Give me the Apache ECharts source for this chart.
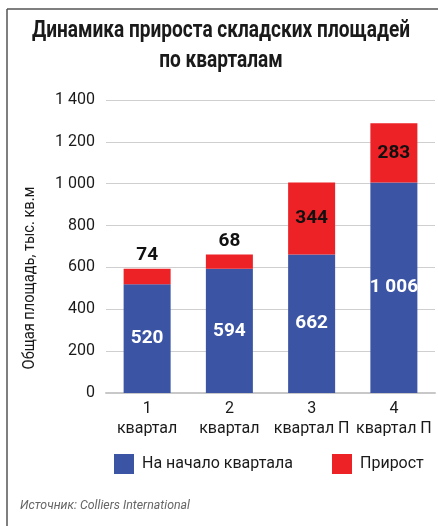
<!DOCTYPE html>
<html><head><meta charset="utf-8">
<script src="https://cdn.jsdelivr.net/npm/echarts@6/dist/echarts.min.js"></script>
<style>html,body{margin:0;padding:0;background:#fff}#c{width:438px;height:526px}</style>
</head><body><div id="c"></div>
<script>
const categories = ['1\nквартал', '2\nквартал', '3\nквартал П', '4\nквартал П'];
const baseValues = [520, 594, 662, 1006];
const growthValues = [74, 68, 344, 283];
const growthLabelPos = ['top', 'top', 'inside', 'inside'];
const yTicks = {min: 0, max: 1400, interval: 200};
const seriesNames = ['На начало квартала', 'Прирост'];
const titleLines = ['Динамика прироста складских площадей', 'по кварталам'];
const yAxisName = 'Общая площадь, тыс. кв.м';
const sourceText = 'Источник: Colliers International';

const FONT = 'Roboto, "Liberation Sans", sans-serif';
const fmt = v => String(v).replace(/\B(?=(\d{3})+(?!\d))/g, ' ');

const chart = echarts.init(document.getElementById('c'));
chart.setOption({
  animation: false,
  textStyle: {fontFamily: FONT},
  legend: [
    {left: 114, top: 454, padding: 0, itemWidth: 20, itemHeight: 20, itemGap: 8, icon: 'rect',
     textStyle: {fontFamily: FONT, fontSize: 16, color: '#1a1a1a', padding: [0, 0, 0, 3]}, data: [seriesNames[0]]},
    {left: 332, top: 454, padding: 0, itemWidth: 20, itemHeight: 20, itemGap: 8, icon: 'rect',
     textStyle: {fontFamily: FONT, fontSize: 16, color: '#1a1a1a', padding: [0, 0, 0, 3]}, data: [seriesNames[1]]}
  ],
  grid: {left: 106, right: 3, top: 100, bottom: 133},
  xAxis: {
    type: 'category', data: categories,
    axisLine: {lineStyle: {color: '#c8c8c8', width: 2}},
    axisTick: {show: false},
    axisLabel: {interval: 0, fontFamily: FONT, fontSize: 16, color: '#1a1a1a', lineHeight: 20, margin: 6}
  },
  yAxis: {
    type: 'value', min: yTicks.min, max: yTicks.max, interval: yTicks.interval,
    axisLine: {show: false}, axisTick: {show: false},
    splitLine: {lineStyle: {color: '#cfcfcf', width: 1}},
    axisLabel: {fontFamily: FONT, fontSize: 16, color: '#1a1a1a', margin: 11, formatter: fmt}
  },
  graphic: [
    {type: 'line', shape: {x1: 7, y1: 9, x2: 438, y2: 9}, style: {stroke: '#555', lineWidth: 1.5}},
    {type: 'line', shape: {x1: 7, y1: 9, x2: 7, y2: 526}, style: {stroke: '#555', lineWidth: 1.5}},
    {type: 'text', x: 221, y: 31, scaleX: 0.83,
     style: {text: titleLines[0], fontFamily: FONT, fontSize: 23, fontWeight: 'bold', fill: '#1a1a1a', align: 'center', verticalAlign: 'middle'}},
    {type: 'text', x: 221, y: 61, scaleX: 0.83,
     style: {text: titleLines[1], fontFamily: FONT, fontSize: 23, fontWeight: 'bold', fill: '#1a1a1a', align: 'center', verticalAlign: 'middle'}},
    {type: 'text', x: 30, y: 278, rotation: Math.PI / 2, scaleX: 0.86,
     style: {text: yAxisName, fontFamily: FONT, fontSize: 17, fill: '#1a1a1a', align: 'center', verticalAlign: 'middle'}},
    {type: 'text', x: 20, y: 506, scaleX: 0.95,
     style: {text: sourceText, fontFamily: FONT, fontSize: 13, fontStyle: 'italic', fill: '#666', align: 'left', verticalAlign: 'middle'}}
  ],
  series: [
    {
      name: seriesNames[0], type: 'bar', stack: 's', barWidth: 47,
      itemStyle: {color: '#3B54A4'},
      label: {show: true, position: 'inside', color: '#fff', fontFamily: FONT, fontSize: 19, fontWeight: 'bold', formatter: p => fmt(p.value)},
      data: baseValues
    },
    {
      name: seriesNames[1], type: 'bar', stack: 's', barWidth: 47,
      itemStyle: {color: '#EC2227'},
      data: growthValues.map((v, i) => ({
        value: v,
        label: {show: true, position: growthLabelPos[i], color: '#111', fontFamily: FONT, fontSize: 19, fontWeight: 'bold', distance: 4, formatter: p => fmt(p.value)}
      }))
    }
  ]
});
</script></body></html>
